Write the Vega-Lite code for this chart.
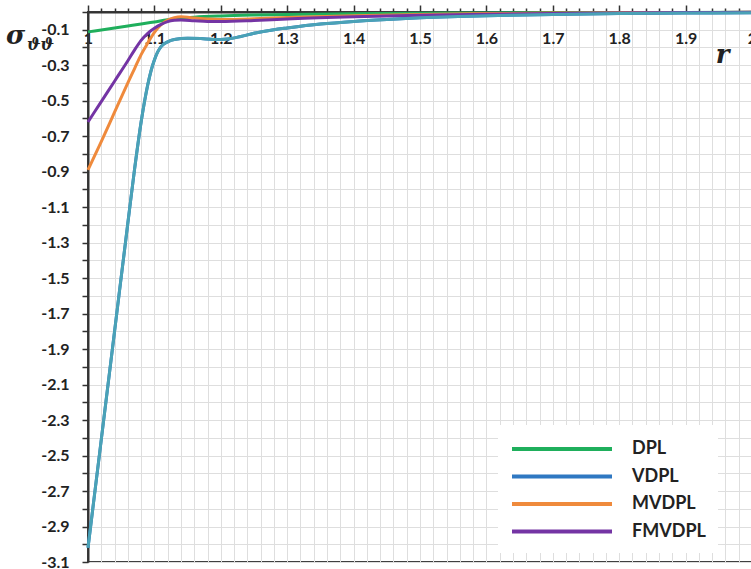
{
  "$schema": "https://vega.github.io/schema/vega-lite/v6.json",
  "width": 664,
  "height": 550,
  "autosize": {"type": "none"},
  "padding": {"left": 88, "top": 12, "right": 0, "bottom": 7},
  "background": "white",
  "title": {"text": "ϑϑ", "anchor": "start", "frame": "group", "orient": "top", "offset": 0, "dx": -61, "dy": 62, "baseline": "alphabetic", "font": "DejaVu Serif", "fontStyle": "italic", "fontWeight": "bold", "fontSize": 16, "color": "#222"},
  "config": {
    "view": {"stroke": "#404040", "strokeWidth": 2},
    "axis": {"labelFont": "Lato", "labelFontWeight": "bold", "labelFontSize": 16, "labelColor": "#222", "gridColor": "#dedede", "gridWidth": 1, "domainColor": "#333", "domainWidth": 2, "tickColor": "#333", "tickWidth": 1.5}
  },
  "data": {"values": [
    {"series": "DPL", "r": 1.00, "s": -0.112},
    {"series": "DPL", "r": 1.02, "s": -0.101},
    {"series": "DPL", "r": 1.04, "s": -0.090},
    {"series": "DPL", "r": 1.06, "s": -0.079},
    {"series": "DPL", "r": 1.08, "s": -0.068},
    {"series": "DPL", "r": 1.10, "s": -0.056},
    {"series": "DPL", "r": 1.12, "s": -0.044},
    {"series": "DPL", "r": 1.14, "s": -0.035},
    {"series": "DPL", "r": 1.16, "s": -0.029},
    {"series": "DPL", "r": 1.20, "s": -0.022},
    {"series": "DPL", "r": 1.25, "s": -0.017},
    {"series": "DPL", "r": 1.30, "s": -0.014},
    {"series": "DPL", "r": 1.40, "s": -0.010},
    {"series": "DPL", "r": 1.50, "s": -0.007},
    {"series": "DPL", "r": 1.60, "s": -0.005},
    {"series": "DPL", "r": 1.80, "s": -0.003},
    {"series": "DPL", "r": 2.00, "s": -0.002},

    {"series": "VDPL", "r": 1.00, "s": -3.02},
    {"series": "VDPL", "r": 1.02, "s": -2.41},
    {"series": "VDPL", "r": 1.04, "s": -1.80},
    {"series": "VDPL", "r": 1.06, "s": -1.19},
    {"series": "VDPL", "r": 1.07, "s": -0.89},
    {"series": "VDPL", "r": 1.08, "s": -0.62},
    {"series": "VDPL", "r": 1.09, "s": -0.41},
    {"series": "VDPL", "r": 1.095, "s": -0.33},
    {"series": "VDPL", "r": 1.10, "s": -0.27},
    {"series": "VDPL", "r": 1.105, "s": -0.225},
    {"series": "VDPL", "r": 1.11, "s": -0.195},
    {"series": "VDPL", "r": 1.12, "s": -0.168},
    {"series": "VDPL", "r": 1.13, "s": -0.155},
    {"series": "VDPL", "r": 1.15, "s": -0.148},
    {"series": "VDPL", "r": 1.17, "s": -0.150},
    {"series": "VDPL", "r": 1.19, "s": -0.155},
    {"series": "VDPL", "r": 1.21, "s": -0.152},
    {"series": "VDPL", "r": 1.23, "s": -0.138},
    {"series": "VDPL", "r": 1.25, "s": -0.120},
    {"series": "VDPL", "r": 1.28, "s": -0.100},
    {"series": "VDPL", "r": 1.30, "s": -0.090},
    {"series": "VDPL", "r": 1.35, "s": -0.068},
    {"series": "VDPL", "r": 1.40, "s": -0.053},
    {"series": "VDPL", "r": 1.45, "s": -0.042},
    {"series": "VDPL", "r": 1.50, "s": -0.033},
    {"series": "VDPL", "r": 1.60, "s": -0.021},
    {"series": "VDPL", "r": 1.70, "s": -0.014},
    {"series": "VDPL", "r": 1.80, "s": -0.009},
    {"series": "VDPL", "r": 1.90, "s": -0.006},
    {"series": "VDPL", "r": 2.00, "s": -0.004},

    {"series": "MVDPL", "r": 1.00, "s": -0.89},
    {"series": "MVDPL", "r": 1.02, "s": -0.73},
    {"series": "MVDPL", "r": 1.04, "s": -0.565},
    {"series": "MVDPL", "r": 1.06, "s": -0.40},
    {"series": "MVDPL", "r": 1.07, "s": -0.32},
    {"series": "MVDPL", "r": 1.08, "s": -0.24},
    {"series": "MVDPL", "r": 1.09, "s": -0.175},
    {"series": "MVDPL", "r": 1.10, "s": -0.115},
    {"series": "MVDPL", "r": 1.11, "s": -0.072},
    {"series": "MVDPL", "r": 1.12, "s": -0.045},
    {"series": "MVDPL", "r": 1.13, "s": -0.032},
    {"series": "MVDPL", "r": 1.14, "s": -0.027},
    {"series": "MVDPL", "r": 1.15, "s": -0.029},
    {"series": "MVDPL", "r": 1.16, "s": -0.034},
    {"series": "MVDPL", "r": 1.18, "s": -0.040},
    {"series": "MVDPL", "r": 1.20, "s": -0.042},
    {"series": "MVDPL", "r": 1.25, "s": -0.038},
    {"series": "MVDPL", "r": 1.30, "s": -0.031},
    {"series": "MVDPL", "r": 1.40, "s": -0.021},
    {"series": "MVDPL", "r": 1.50, "s": -0.014},
    {"series": "MVDPL", "r": 1.60, "s": -0.009},
    {"series": "MVDPL", "r": 1.70, "s": -0.006},
    {"series": "MVDPL", "r": 1.80, "s": -0.004},
    {"series": "MVDPL", "r": 1.90, "s": -0.003},
    {"series": "MVDPL", "r": 2.00, "s": -0.002},

    {"series": "FMVDPL", "r": 1.00, "s": -0.62},
    {"series": "FMVDPL", "r": 1.02, "s": -0.505},
    {"series": "FMVDPL", "r": 1.04, "s": -0.39},
    {"series": "FMVDPL", "r": 1.06, "s": -0.275},
    {"series": "FMVDPL", "r": 1.07, "s": -0.215},
    {"series": "FMVDPL", "r": 1.08, "s": -0.16},
    {"series": "FMVDPL", "r": 1.09, "s": -0.12},
    {"series": "FMVDPL", "r": 1.10, "s": -0.092},
    {"series": "FMVDPL", "r": 1.11, "s": -0.070},
    {"series": "FMVDPL", "r": 1.12, "s": -0.054},
    {"series": "FMVDPL", "r": 1.13, "s": -0.047},
    {"series": "FMVDPL", "r": 1.14, "s": -0.045},
    {"series": "FMVDPL", "r": 1.16, "s": -0.049},
    {"series": "FMVDPL", "r": 1.18, "s": -0.053},
    {"series": "FMVDPL", "r": 1.20, "s": -0.054},
    {"series": "FMVDPL", "r": 1.25, "s": -0.048},
    {"series": "FMVDPL", "r": 1.30, "s": -0.039},
    {"series": "FMVDPL", "r": 1.40, "s": -0.027},
    {"series": "FMVDPL", "r": 1.50, "s": -0.018},
    {"series": "FMVDPL", "r": 1.60, "s": -0.012},
    {"series": "FMVDPL", "r": 1.70, "s": -0.008},
    {"series": "FMVDPL", "r": 1.80, "s": -0.005},
    {"series": "FMVDPL", "r": 1.90, "s": -0.003},
    {"series": "FMVDPL", "r": 2.00, "s": -0.002}
  ]},
  "encoding": {
    "x": {"field": "r", "type": "quantitative", "scale": {"domain": [1, 2], "nice": false, "zero": false},
      "axis": {"orient": "top", "title": "r", "titleFont": "DejaVu Serif", "titleFontStyle": "italic", "titleFontWeight": "bold", "titleFontSize": 26, "titleColor": "#222", "titleX": 634, "titleY": 50, "titleAlign": "center", "titleBaseline": "alphabetic", "titleAngle": 0,
        "values": [1, 1.02, 1.04, 1.06, 1.08, 1.1, 1.12, 1.14, 1.16, 1.18, 1.2, 1.22, 1.24, 1.26, 1.28, 1.3, 1.32, 1.34, 1.36, 1.38, 1.4, 1.42, 1.44, 1.46, 1.48, 1.5, 1.52, 1.54, 1.56, 1.58, 1.6, 1.62, 1.64, 1.66, 1.68, 1.7, 1.72, 1.74, 1.76, 1.78, 1.8, 1.82, 1.84, 1.86, 1.88, 1.9, 1.92, 1.94, 1.96, 1.98, 2],
        "labelExpr": "abs(datum.value*10 - round(datum.value*10)) < 0.001 ? toString(round(datum.value*10)/10) : ''",
        "tickSize": {"condition": {"test": "abs(datum.value*10 - round(datum.value*10)) < 0.001", "value": 7}, "value": 4},
        "labelPadding": -33, "labelBaseline": "middle", "labelFlush": false, "labelOverlap": false, "grid": true}},
    "y": {"field": "s", "type": "quantitative", "scale": {"domain": [-3.1, 0], "nice": false, "zero": false},
      "axis": {"title": "σ", "titleFont": "DejaVu Serif", "titleFontStyle": "italic", "titleFontWeight": "bold", "titleFontSize": 26, "titleColor": "#222", "titleAngle": 0, "titleX": -73, "titleY": 31, "titleAlign": "center", "titleBaseline": "alphabetic",
        "values": [0, -0.1, -0.2, -0.3, -0.4, -0.5, -0.6, -0.7, -0.8, -0.9, -1, -1.1, -1.2, -1.3, -1.4, -1.5, -1.6, -1.7, -1.8, -1.9, -2, -2.1, -2.2, -2.3, -2.4, -2.5, -2.6, -2.7, -2.8, -2.9, -3, -3.1],
        "labelExpr": "abs(round(datum.value*10)) % 2 == 1 ? toString(datum.value) : ''",
        "tickSize": 6, "labelPadding": 13, "labelOverlap": false, "grid": true}}
  },
  "layer": [
    {
      "mark": {"type": "line", "strokeWidth": 3, "interpolate": "monotone"},
      "encoding": {
        "color": {"field": "series", "type": "nominal",
          "scale": {"domain": ["DPL", "VDPL", "MVDPL", "FMVDPL"], "range": ["#1faf5c", "#2f78c2", "#ef8a3c", "#7434a4"]},
          "legend": {"title": null, "orient": "none", "legendX": 410, "legendY": 413, "padding": 12, "fillColor": "white", "symbolType": "M-1,0H9", "symbolSize": 400, "symbolStrokeWidth": 4, "labelFont": "Lato", "labelFontWeight": "bold", "labelFontSize": 18, "labelColor": "#222", "labelOffset": 98, "rowPadding": 6.5}}
      }
    },
    {
      "transform": [{"filter": "datum.series == 'VDPL'"}],
      "mark": {"type": "line", "strokeWidth": 3, "interpolate": "monotone", "color": "#4aa2b6"}
    }
  ]
}
